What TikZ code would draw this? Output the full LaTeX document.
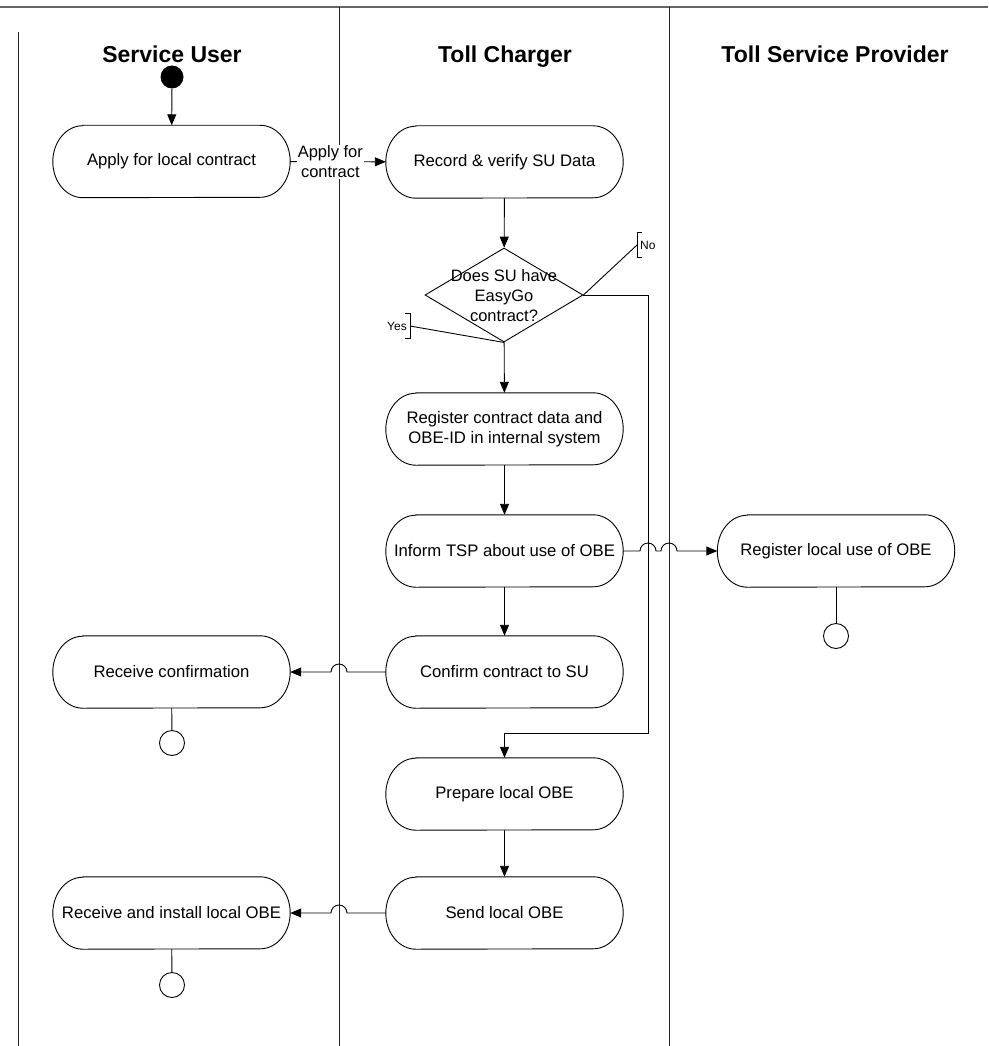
\documentclass[tikz,border=0pt]{standalone}
\usepackage{fontspec}
\setmainfont{Liberation Sans}
\usetikzlibrary{arrows.meta,shapes.geometric}

\tikzset{
  lane/.style={line width=1pt, draw=black!85},
  topline/.style={line width=2pt, draw=black!60},
  act/.style={minimum width=237pt, minimum height=72pt, inner sep=0pt, align=center,
    font=\fontsize{16.7}{20}\selectfont},
  flow/.style={line width=0.9pt, -{Triangle[length=11pt,width=9pt]}},
  plain/.style={line width=0.9pt},
  endpt/.style={circle, draw, line width=0.9pt, minimum size=25pt, inner sep=0pt, fill=white},
  startpt/.style={circle, fill=black, minimum size=23pt, inner sep=0pt},
  title/.style={font=\fontsize{23}{27}\selectfont\bfseries, anchor=base},
  lbl/.style={font=\fontsize{16.5}{20}\selectfont, align=center},
  note/.style={font=\fontsize{12}{14}\selectfont, inner sep=3pt, minimum height=24pt},
}

% stadium-like outline with elliptical ends around an activity node
\newcommand\actframe[1]{%
  \draw[line width=0.9pt] ([xshift=30pt]#1.north west) -- ([xshift=-30pt]#1.north east)
    arc[start angle=90, end angle=-90, x radius=30pt, y radius=36pt]
    -- ([xshift=30pt]#1.south west)
    arc[start angle=270, end angle=90, x radius=30pt, y radius=36pt] -- cycle;}

\begin{document}
\begin{tikzpicture}[x=1pt, y=-1pt]
\useasboundingbox (0,0) rectangle (988,1046);

% swimlanes
\draw[topline] (0,7) -- (988,7);
\draw[lane] (18,32) -- (18,1046);
\draw[lane] (339,7) -- (339,1046);
\draw[lane] (669,7) -- (669,1046);

\node[title] (t1) at (172,63) {Service User};
\node[title] (t2) at (505,63) {Toll Charger};
\node[title] (t3) at (835,63) {Toll Service Provider};

% activities
\node[startpt] (start) at (172,77) {};
\node[act] (apply)   at (171.5,161.5) {Apply for local contract};
\node[act] (record)  at (504.5,162) {Record \& verify SU Data};
\node[diamond, draw, line width=0.9pt, minimum width=158pt, minimum height=94pt, inner sep=0pt] (dec) at (504,295) {};
\node[lbl] (dectext) at (504,296) {Does SU have\\EasyGo\\contract?};
\node[act] (regc)    at (504.5,429) {Register contract data and\\OBE-ID in internal system};
\node[act] (inform)  at (504.5,551) {Inform TSP about use of OBE};
\node[act] (regl)    at (836,551) {Register local use of OBE};
\node[act] (confirm) at (504.5,672) {Confirm contract to SU};
\node[act] (recv)    at (171.5,672) {Receive confirmation};
\node[act] (prep)    at (504.5,794) {Prepare local OBE};
\node[act] (send)    at (504.5,913) {Send local OBE};
\node[act] (inst)    at (171.5,913) {Receive and install local OBE};

\foreach \n in {apply,record,regc,inform,regl,confirm,recv,prep,send,inst}{\actframe{\n}}

% final states
\node[endpt] (e1) at (172,743) {};
\node[endpt] (e2) at (836,636) {};
\node[endpt] (e3) at (172,985) {};

% decision annotations
\node[note, anchor=west] (nolbl) at (637,245) {No};
\draw[plain] ([xshift=5pt]nolbl.north west) -- (nolbl.north west) -- (nolbl.south west) -- ([xshift=5pt]nolbl.south west);
\draw[plain] (dec.east) -- (nolbl.west);
\node[note, anchor=east] (yeslbl) at (410,326) {Yes};
\draw[plain] ([xshift=-5pt]yeslbl.north east) -- (yeslbl.north east) -- (yeslbl.south east) -- ([xshift=-5pt]yeslbl.south east);
\draw[plain] (dec.south) -- (yeslbl.east);

% flows
\draw[flow] (start) -- (apply);
\draw[flow] (apply) -- node[lbl, fill=white, inner sep=1pt, pos=0.42] {Apply for\\contract} (record);
\draw[flow] (record) -- (dec);
\draw[flow] (dec) -- (regc);
\draw[flow] (regc) -- (inform);
\draw[flow] (inform) -- (confirm);
\draw[flow] (prep) -- (send);
\coordinate (nobend) at (648,733);
\draw[flow] (dec.east) -| (nobend) -| (prep.north);

\draw[flow] (inform.east) -- (640,551) arc[start angle=180, end angle=0, radius=8pt]
  -- (661,551) arc[start angle=180, end angle=0, radius=8pt] -- (regl.west);
\draw[flow] (confirm.west) -- (347,672) arc[start angle=0, end angle=180, radius=8pt] -- (recv.east);
\draw[flow] (send.west) -- (347,913) arc[start angle=0, end angle=180, radius=8pt] -- (inst.east);

\draw[plain] (recv) -- (e1);
\draw[plain] (regl) -- (e2);
\draw[plain] (inst) -- (e3);
\end{tikzpicture}
\end{document}
